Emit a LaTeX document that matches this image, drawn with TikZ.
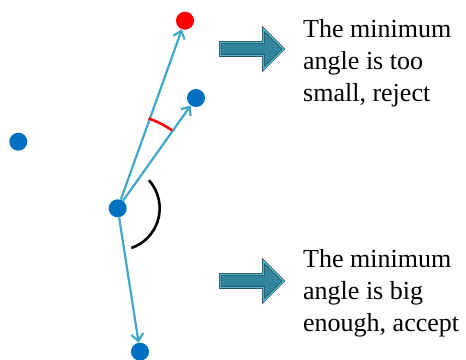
\documentclass[tikz,border=0pt]{standalone}
\usepackage{fontspec}
\setmainfont{Liberation Serif}
\usetikzlibrary{arrows.meta,shapes.arrows}
\definecolor{dotcol}{RGB}{0,112,192}
\definecolor{veccol}{RGB}{64,168,200}
\definecolor{arrcol}{RGB}{49,133,156}
\definecolor{arrline}{RGB}{33,89,104}
\definecolor{arrglow}{RGB}{90,180,205}

\begin{document}
\begin{tikzpicture}[x=1pt,y=1pt,
  pt/.style={circle,fill=dotcol,minimum size=18pt,inner sep=0pt},
  vec/.style={-{Straight Barb[length=7pt,width=12pt]},veccol,line width=2.2pt},
  blockarrow/.style={single arrow,fill=arrcol,draw=arrline,line width=0.8pt,
    double=arrglow,double distance=1.2pt,
    minimum width=39pt,minimum height=63pt,single arrow head extend=13.5pt,
    inner sep=6pt,anchor=west},
  txt/.style={anchor=north west,inner sep=0pt,align=left,
    font=\fontsize{26}{32}\selectfont}]
  \useasboundingbox (0,0) rectangle (466,359);
  % points
  \node[pt,fill=red] (pRed) at (185,338.3) {};
  \node[pt] (pUp) at (196,261) {};
  \node[pt] (pLeft) at (18.3,217.3) {};
  \node[pt] (pMid) at (117.7,150.7) {};
  \node[pt] (pDown) at (140,7.3) {};
  % vectors from the middle point
  \draw[vec] (pMid) -- (pRed);
  \draw[vec] (pMid) -- (pUp);
  \draw[vec] (pMid) -- (pDown);
  % angles
  \draw[red,line width=2.6pt] (pMid.center) ++(71:95) arc[start angle=71,end angle=55,radius=95];
  \draw[black,line width=2.6pt] (pMid.center) ++(42:42) arc[start angle=42,end angle=-71,radius=42];
  % block arrows and texts
  \node[blockarrow] (arrReject) at (220,310) {};
  \node[blockarrow] (arrAccept) at (220,78) {};
  \node[txt] (txtReject) at (303,340) {The minimum\\angle is too\\small, reject};
  \node[txt] (txtAccept) at (303,110) {The minimum\\angle is big\\enough, accept};
\end{tikzpicture}
\end{document}
